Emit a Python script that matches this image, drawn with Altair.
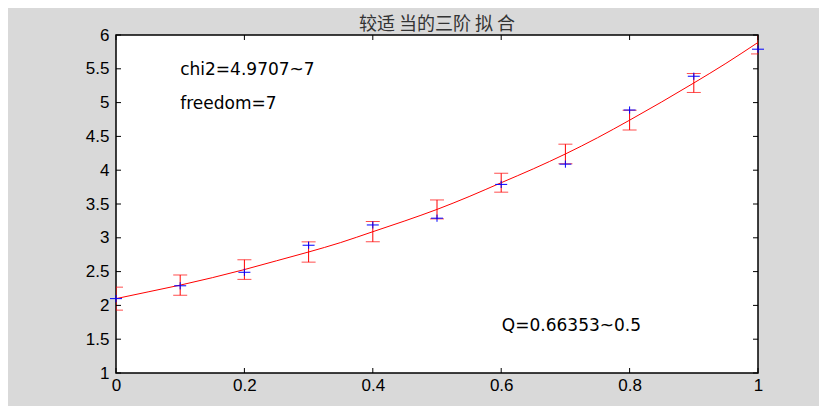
import altair as alt
import pandas as pd

# data
x_vals = [0.0, 0.1, 0.2, 0.3, 0.4, 0.5, 0.6, 0.7, 0.8, 0.9, 1.0]
y_data = [2.10, 2.29, 2.49, 2.89, 3.19, 3.29, 3.79, 4.09, 4.89, 5.39, 5.79]
fit_at_x = [2.10, 2.30, 2.53, 2.79, 3.09, 3.42, 3.815, 4.24, 4.74, 5.29, 5.89]
err = [0.17, 0.15, 0.145, 0.15, 0.15, 0.14, 0.14, 0.145, 0.145, 0.14, 0.17]

curve_x = [0.0, 0.05, 0.1, 0.15, 0.2, 0.25, 0.3, 0.35, 0.4, 0.45, 0.5,
           0.55, 0.6, 0.65, 0.7, 0.75, 0.8, 0.85, 0.9, 0.95, 1.0]
curve_y = [2.10, 2.20, 2.30, 2.41, 2.53, 2.66, 2.79, 2.93, 3.09, 3.25, 3.42,
           3.61, 3.815, 4.02, 4.24, 4.48, 4.74, 5.01, 5.29, 5.58, 5.89]

x_ticks = [0, 0.2, 0.4, 0.6, 0.8, 1]
y_ticks = [1, 1.5, 2, 2.5, 3, 3.5, 4, 4.5, 5, 5.5, 6]

ann_text = ["chi2=4.9707~7", "freedom=7", "Q=0.66353~0.5"]
ann_x = [0.1, 0.1, 0.601]
ann_y = [5.48, 4.98, 1.70]

title_text = "较适 当的三阶 拟 合"

W, H = 642, 338

pts = pd.DataFrame({"x": x_vals, "y": y_data, "fit": fit_at_x, "err": err})
curve = pd.DataFrame({"x": curve_x, "y": curve_y})
ann = pd.DataFrame({"x": ann_x, "y": ann_y, "t": ann_text})
xt = pd.DataFrame({"v": x_ticks})
yt = pd.DataFrame({"v": y_ticks})

xs = alt.Scale(domain=[0, 1], nice=False, zero=False)
ys = alt.Scale(domain=[1, 6], nice=False, zero=False)
xa = alt.Axis(values=x_ticks, format="~g")
ya = alt.Axis(values=y_ticks, format="~g")


def XN(f):
    return alt.X(f, scale=xs, title=None, axis=xa)


def YN(f):
    return alt.Y(f, scale=ys, title=None, axis=ya)


line = alt.Chart(curve).mark_line(color="#ff0000", strokeWidth=1, clip=True,
                                  interpolate="monotone").encode(
    x=XN("x:Q"), y=YN("y:Q"))

base = alt.Chart(pts).transform_calculate(
    lo="datum.fit - datum.err", hi="datum.fit + datum.err")

bars = base.mark_rule(color="#ff0000", strokeWidth=1, clip=True).encode(
    x=XN("x:Q"), y=YN("lo:Q"), y2="hi:Q")
cap_lo = base.mark_tick(color="#ff0000", orient="horizontal", size=14,
                        thickness=1, clip=True).encode(
    x=XN("x:Q"), y=YN("lo:Q"))
cap_hi = base.mark_tick(color="#ff0000", orient="horizontal", size=14,
                        thickness=1, clip=True).encode(
    x=XN("x:Q"), y=YN("hi:Q"))

plus = alt.Chart(pts).mark_point(
    shape="M-1,0H1M0,-0.6V0.6", size=144, filled=False,
    stroke="#0000ff", strokeWidth=1, opacity=1).encode(
    x=XN("x:Q"), y=YN("y:Q"))

texts = alt.Chart(ann).mark_text(align="left", baseline="middle",
                                 font="DejaVu Sans", fontSize=17,
                                 color="black").encode(
    x=XN("x:Q"), y=YN("y:Q"), text="t:N")

tb = alt.Chart(xt).mark_rule(color="black").encode(
    x=XN("v:Q"), y=alt.value(H), y2=alt.value(H - 5))
tt = alt.Chart(xt).mark_rule(color="black").encode(
    x=XN("v:Q"), y=alt.value(0), y2=alt.value(5))
tl = alt.Chart(yt).mark_rule(color="black").encode(
    y=YN("v:Q"), x=alt.value(0), x2=alt.value(5))
tr = alt.Chart(yt).mark_rule(color="black").encode(
    y=YN("v:Q"), x=alt.value(W), x2=alt.value(W - 5))

chart = alt.layer(line, bars, cap_lo, cap_hi, plus, texts, tb, tt, tl, tr).properties(
    width=W, height=H,
    title=alt.TitleParams(title_text, font="Noto Sans CJK SC", fontSize=18,
                          fontWeight="normal", color="#333333", offset=-8,
                          anchor="middle"),
    autosize=alt.AutoSizeParams(type="none"),
    padding={"left": 108, "top": 27, "right": 61, "bottom": 33},
    background="#d9d9d9",
).configure_view(
    fill="white", stroke="black", strokeWidth=1.5
).configure_axis(
    grid=False, ticks=False, domain=False, labelFont="Liberation Sans",
    labelFontSize=17, labelColor="black", labelPadding=5,
    labelFlush=False, labelOverlap=False
).configure_axisX(labelPadding=4).configure_axisY(labelPadding=7)

chart.save("out.html", embed_options={"renderer": "svg", "actions": False})
